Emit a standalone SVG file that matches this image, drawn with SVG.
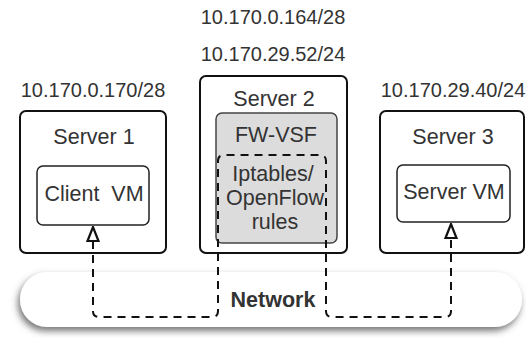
<svg xmlns="http://www.w3.org/2000/svg" width="526" height="338" viewBox="0 0 526 338">
  <defs>
    <style>
      .lbl { font-family: "Liberation Sans", Arial, sans-serif; font-size: 20px; fill: #333333; text-anchor: middle; }
      .big { font-size: 21.5px; }
      .box { fill: #ffffff; stroke: #111111; stroke-width: 2; }
      .vm { fill: #ffffff; stroke: #222222; stroke-width: 1.5; }
      .fw { fill: #dcdcdc; stroke: #444444; stroke-width: 1.5; }
      .link { fill: none; stroke: #111111; stroke-width: 2; stroke-dasharray: 8 6; }
      .net-text { font-family: "Liberation Sans", Arial, sans-serif; font-size: 21.5px; font-weight: bold; fill: #333333; text-anchor: middle; }
    </style>
    <filter id="netShadow" x="-5%" y="-30%" width="110%" height="180%">
      <feDropShadow dx="-2" dy="4" stdDeviation="3.5" flood-color="#666666" flood-opacity="0.9"/>
    </filter>
    <marker id="openHead" viewBox="0 0 16 14" refX="15" refY="7" markerWidth="16" markerHeight="14" markerUnits="userSpaceOnUse" orient="auto-start-reverse">
      <path d="M1,1.5 L15,7 L1,12.5 z" fill="#ffffff" stroke="#111111" stroke-width="2.2" stroke-linejoin="miter"/>
    </marker>
  </defs>

  <rect width="526" height="338" fill="#ffffff"/>

  <!-- shared network segment -->
  <g id="network">
    <rect x="20" y="272" width="502" height="55" rx="27" fill="#ffffff" filter="url(#netShadow)"/>
    <text class="net-text" x="273" y="307">Network</text>
  </g>

  <!-- Server 1 with its client VM -->
  <g id="server1">
    <text class="lbl" x="93" y="97">10.170.0.170/28</text>
    <rect class="box" x="20" y="111" width="146" height="142" rx="6"/>
    <text class="lbl big" x="94" y="144">Server 1</text>
    <g id="client-vm">
      <rect class="vm" x="37" y="166" width="112" height="59" rx="6"/>
      <text class="lbl big" x="94" y="201" xml:space="preserve">Client  VM</text>
    </g>
  </g>

  <!-- Server 2 hosting the firewall VSF -->
  <g id="server2">
    <text class="lbl" x="273" y="24">10.170.0.164/28</text>
    <text class="lbl" x="273" y="61">10.170.29.52/24</text>
    <rect class="box" x="200" y="76" width="147" height="177" rx="6"/>
    <text class="lbl big" x="274" y="106">Server 2</text>
    <g id="fw-vsf">
      <rect class="fw" x="216" y="113" width="121" height="130" rx="6"/>
      <text class="lbl big" x="276" y="142">FW-VSF</text>
      <text class="lbl big" x="273" y="181">Iptables/</text>
      <text class="lbl big" x="275" y="205">OpenFlow</text>
      <text class="lbl big" x="275" y="229">rules</text>
    </g>
  </g>

  <!-- Server 3 with its server VM -->
  <g id="server3">
    <text class="lbl" x="453" y="97">10.170.29.40/24</text>
    <rect class="box" x="380" y="111" width="144" height="142" rx="6"/>
    <text class="lbl big" x="453" y="144">Server 3</text>
    <g id="server-vm">
      <rect class="vm" x="397" y="165" width="113" height="57" rx="6"/>
      <text class="lbl big" x="454" y="199">Server VM</text>
    </g>
  </g>

  <!-- traffic path: client VM -> network -> iptables rules -> network -> server VM -->
  <g id="connectors">
    <path class="link" marker-start="url(#openHead)" marker-end="url(#openHead)"
          d="M 93 227 V 311 Q 93 317 99 317 H 212 Q 218 317 218 311 V 161 Q 218 155 224 155 H 320 Q 326 155 326 161 V 311 Q 326 317 332 317 H 445 Q 451 317 451 311 V 224"/>
  </g>
</svg>
